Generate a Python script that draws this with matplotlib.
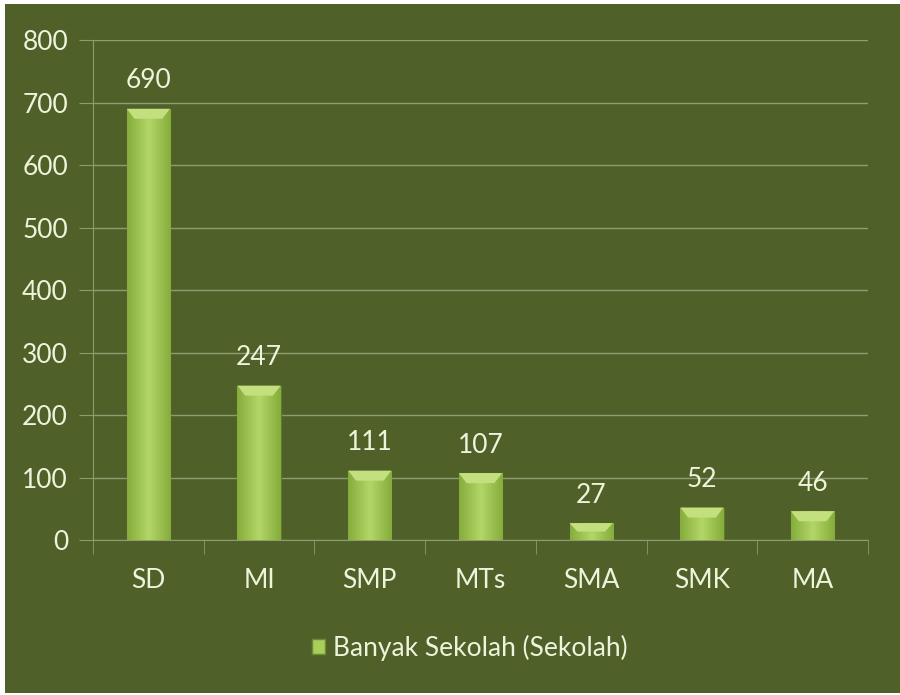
import matplotlib
matplotlib.use("Agg")
import matplotlib.pyplot as plt
import numpy as np
from matplotlib.patches import Rectangle
from matplotlib.colors import LinearSegmentedColormap

categories = ["SD", "MI", "SMP", "MTs", "SMA", "SMK", "MA"]
values = [690, 247, 111, 107, 27, 52, 46]
yticks = [0, 100, 200, 300, 400, 500, 600, 700, 800]
legend_label = "Banyak Sekolah (Sekolah)"

bg = "#4f6128"
txt = "#eef3dc"
grid = "#8e9c72"

plt.rcParams['font.family'] = ['Lato', 'DejaVu Sans']
fs = 19

fig = plt.figure(figsize=(9, 6.95), dpi=100)
fig.patch.set_facecolor("white")
fig.add_artist(Rectangle((5/900, 2/695), 1 - 5/900, 1 - 6/695, transform=fig.transFigure,
                         facecolor=bg, edgecolor="none", zorder=-10))

ax = fig.add_axes([93/900, 1 - 540/695, (868 - 93)/900, 500/695])
ax.set_facecolor(bg)
ax.patch.set_alpha(0)

x = np.arange(len(categories))
bars = ax.bar(x, values, width=0.39, color="#9cc44c", edgecolor="#5f7a2a", linewidth=0.8, zorder=3)

grad = np.linspace(0, 1, 50)
prof = 1 - np.abs(grad - 0.5) * 2
cmap = LinearSegmentedColormap.from_list("g", ["#86ad3c", "#b2d667"])
img = np.tile(prof, (2, 1))
for b in bars:
    bx, by = b.get_x(), b.get_y()
    w, h = b.get_width(), b.get_height()
    im = ax.imshow(img, cmap=cmap, extent=[bx, bx + w, by, by + h], aspect="auto", zorder=3.5)
    im.set_clip_path(b)
    bev = min(h * 0.5, 16)
    ax.fill([bx, bx + w, bx + w * 0.82, bx + w * 0.18], [by + h, by + h, by + h - bev, by + h - bev],
            color="#c4e07e", zorder=4, lw=0)

for xi, v in zip(x, values):
    ax.annotate(str(v), (xi, v), xytext=(0, 11), textcoords="offset points",
                ha="center", va="bottom", color=txt, fontsize=fs, zorder=5)

ax.set_xlim(-0.5, len(categories) - 0.5)
ax.set_ylim(0, 800)
ax.set_yticks(yticks)
ax.set_yticklabels([str(t) for t in yticks], color=txt, fontsize=fs)
ax.set_xticks(x)
ax.set_xticklabels(categories, color=txt, fontsize=fs)
ax.tick_params(axis="x", length=0, pad=20)
ax.tick_params(axis="y", length=10, color=grid, pad=8)
ax.set_xticks(np.arange(-0.5, len(categories)), minor=True)
ax.tick_params(axis="x", which="minor", length=10, color=grid)
ax.grid(axis="y", color=grid, linewidth=1, zorder=0)
for s in ["top", "right"]:
    ax.spines[s].set_visible(False)
ax.spines["left"].set_color(grid)
ax.spines["bottom"].set_color(grid)

handle = Rectangle((0, 0), 1, 1, facecolor="#a8cf5a", edgecolor="#6d8a33")
leg = fig.legend([handle], [legend_label], loc="center", bbox_to_anchor=(470/900, 1 - 648/695),
                 frameon=False, fontsize=fs, handlelength=0.5, handleheight=0.5, handletextpad=0.3)
for t in leg.get_texts():
    t.set_color(txt)

fig.savefig("out.png", dpi=100, facecolor=fig.get_facecolor())
